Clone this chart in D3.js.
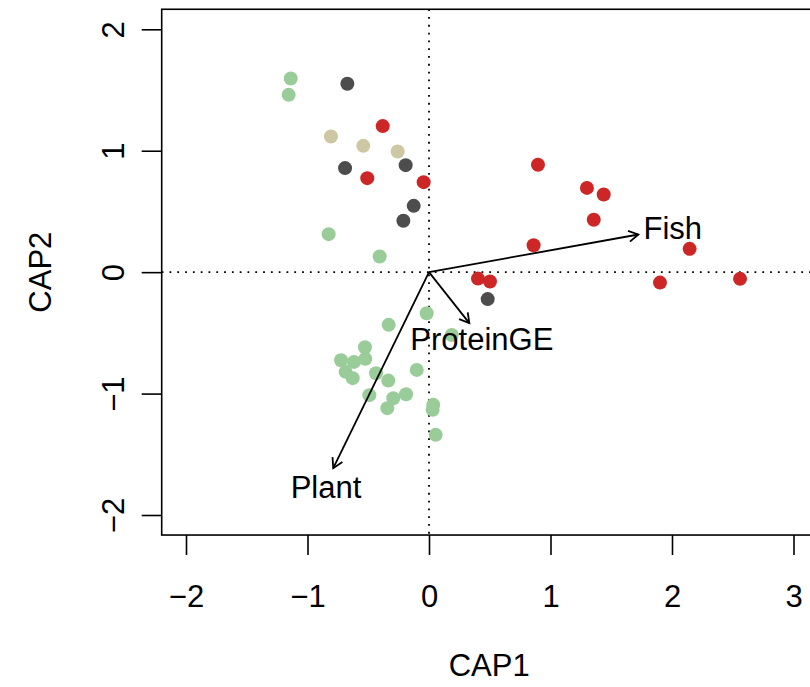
<!DOCTYPE html>
<html>
<head>
<meta charset="utf-8">
<script src="https://cdn.jsdelivr.net/npm/d3@7"></script>
<style>
  html, body { margin: 0; padding: 0; background: #fff; }
  svg { display: block; }
  text { font-family: "Liberation Sans", Arial, Helvetica, sans-serif; fill: #000; }
</style>
</head>
<body>
<svg id="chart" width="810" height="687"></svg>
<script>
// ---- Data ----
const xTicks = [-2, -1, 0, 1, 2, 3];
const yTicks = [-2, -1, 0, 1, 2];
const xLabel = "CAP1";
const yLabel = "CAP2";

const greenPts = [
  [-1.138, 1.595], [-1.155, 1.460], [-0.826, 0.313], [-0.406, 0.129],
  [-0.019, -0.338], [-0.332, -0.434], [0.187, -0.517], [-0.527, -0.618],
  [-0.724, -0.725], [-0.617, -0.739], [-0.524, -0.714], [-0.686, -0.821],
  [-0.628, -0.873], [-0.436, -0.832], [-0.101, -0.805], [-0.335, -0.893],
  [-0.189, -1.005], [-0.491, -1.013], [-0.294, -1.038], [-0.343, -1.120],
  [0.035, -1.093], [0.030, -1.134], [0.055, -1.340]
];
const darkPts = [
  [-0.672, 1.551], [-0.192, 0.881], [-0.691, 0.857], [-0.126, 0.546],
  [-0.211, 0.423], [0.483, -0.222]
];
const tanPts = [
  [-0.807, 1.117], [-0.541, 1.040], [-0.258, 0.994]
];
const redPts = [
  [-0.381, 1.203], [-0.508, 0.774], [-0.044, 0.741], [0.897, 0.884],
  [1.300, 0.694], [1.438, 0.639], [1.356, 0.431], [0.861, 0.222],
  [2.145, 0.192], [0.403, -0.053], [0.502, -0.077], [1.901, -0.086],
  [2.560, -0.055]
];
const groupNames = ["green", "dark", "tan", "red"];
const groupColors = ["#99cc99", "#4d4d4d", "#cdc7a3", "#cd2626"];

const vectorNames = ["Fish", "ProteinGE", "Plant"];
const vectorTips = [[1.723, 0.310], [0.332, -0.420], [-0.788, -1.614]];
const vectorLabelPos = [[2.007, 0.365], [0.435, -0.553], [-0.848, -1.768]];

// ---- Layout ----
const svg = d3.select("#chart");
const x = d3.scaleLinear().domain([-2, 3]).range([186, 793.5]);
const y = d3.scaleLinear().domain([-2, 2]).range([515, 29.3]);
const xMin = -2.2, xMax = 3.19, yMin = -2.165, yMax = 2.165;
const pL = x(xMin), pR = x(xMax), pT = y(yMax), pB = y(yMin);
const fontSize = 31;

// zero lines (dotted)
const zero = svg.append("g");
zero.append("line").attr("x1", pL).attr("x2", pR).attr("y1", y(0)).attr("y2", y(0))
  .attr("stroke", "#000").attr("stroke-width", 1.8).attr("stroke-dasharray", "1.8,6");
zero.append("line").attr("x1", x(0)).attr("x2", x(0)).attr("y1", pT).attr("y2", pB)
  .attr("stroke", "#000").attr("stroke-width", 1.8).attr("stroke-dasharray", "1.8,6");

// points
const groups = [greenPts, darkPts, tanPts, redPts];
groups.forEach((pts, gi) => {
  svg.append("g").attr("class", "grp-" + groupNames[gi])
    .selectAll("circle").data(pts).join("circle")
    .attr("cx", d => x(d[0])).attr("cy", d => y(d[1])).attr("r", 7)
    .attr("fill", groupColors[gi]);
});

// arrows
const arr = svg.append("g").attr("stroke", "#000").attr("stroke-width", 1.8).attr("fill", "none");
const headLen = 11, headAng = Math.PI / 6;
vectorTips.forEach(t => {
  const x0 = x(0), y0 = y(0), x1 = x(t[0]), y1 = y(t[1]);
  const a = Math.atan2(y1 - y0, x1 - x0);
  arr.append("line").attr("x1", x0).attr("y1", y0).attr("x2", x1).attr("y2", y1);
  const p = d3.path();
  p.moveTo(x1 - headLen * Math.cos(a - headAng), y1 - headLen * Math.sin(a - headAng));
  p.lineTo(x1, y1);
  p.lineTo(x1 - headLen * Math.cos(a + headAng), y1 - headLen * Math.sin(a + headAng));
  arr.append("path").attr("d", p.toString());
});
svg.append("g").selectAll("text").data(vectorNames).join("text")
  .attr("x", (d, i) => x(vectorLabelPos[i][0]))
  .attr("y", (d, i) => y(vectorLabelPos[i][1]))
  .attr("dy", "0.36em").attr("text-anchor", "middle")
  .attr("font-size", fontSize).text(d => d);

// box (right edge lies outside the window)
svg.append("rect").attr("x", pL).attr("y", pT).attr("width", pR - pL).attr("height", pB - pT)
  .attr("fill", "none").attr("stroke", "#000").attr("stroke-width", 1.6);

// axes
const fmt = d => (d < 0 ? "\u2212" + Math.abs(d) : String(d));
const xAxis = svg.append("g").attr("transform", `translate(0,${pB})`)
  .call(d3.axisBottom(x).tickValues(xTicks).tickFormat(fmt).tickSize(20).tickPadding(30).tickSizeOuter(0));
xAxis.select(".domain").remove();
xAxis.selectAll("line").attr("stroke-width", 1.6);
xAxis.selectAll("text").attr("font-size", fontSize);
xAxis.attr("font-family", null);

const yAxis = svg.append("g").attr("transform", `translate(${pL},0)`)
  .call(d3.axisLeft(y).tickValues(yTicks).tickFormat(fmt).tickSize(20).tickSizeOuter(0));
yAxis.select(".domain").remove();
yAxis.attr("font-family", null);
yAxis.selectAll("line").attr("stroke-width", 1.6);
yAxis.selectAll("text").attr("font-size", fontSize)
  .attr("transform", "rotate(-90)").attr("x", 0).attr("y", -(pL - 113))
  .attr("dy", "0.36em").attr("text-anchor", "middle");

// axis titles
svg.append("text").attr("x", (pL + pR) / 2).attr("y", 665).attr("dy", "0.36em")
  .attr("text-anchor", "middle").attr("font-size", fontSize).text(xLabel);
svg.append("text").attr("transform", `translate(40,${(pT + pB) / 2}) rotate(-90)`)
  .attr("dy", "0.36em").attr("text-anchor", "middle").attr("font-size", fontSize).text(yLabel);
</script>
</body>
</html>
